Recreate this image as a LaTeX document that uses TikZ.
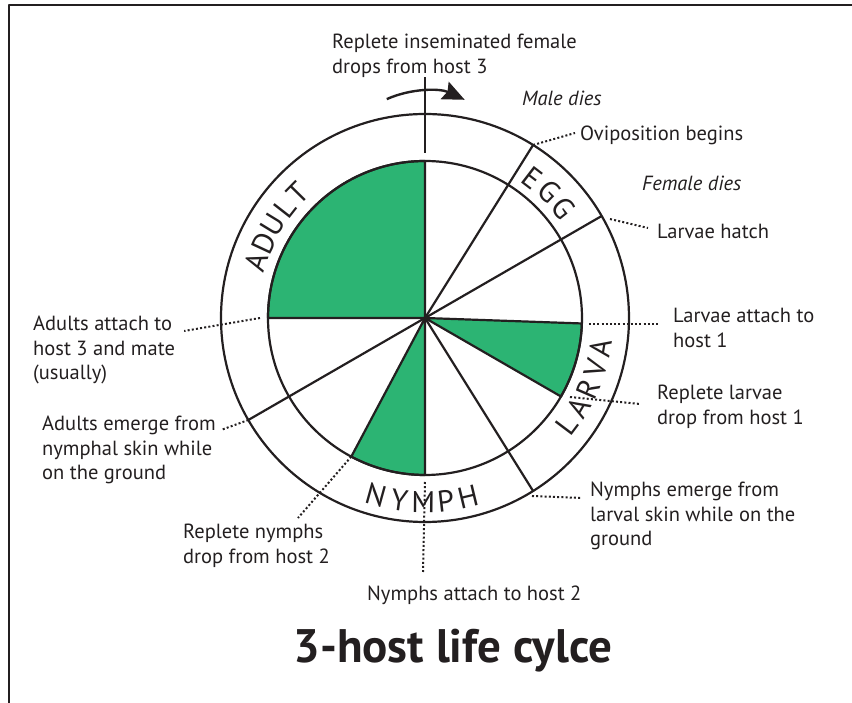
\documentclass[tikz,border=0pt]{standalone}
\usepackage{fontspec}
\setmainfont{PT Sans}
\usetikzlibrary{arrows.meta}
\definecolor{ink}{RGB}{35,31,32}
\definecolor{tickgreen}{RGB}{44,180,115}
\newcommand{\lblfont}{\fontsize{20.5}{24.5}\selectfont}
\newcommand{\ringfont}{\fontsize{30}{30}\selectfont}

\begin{document}
\begin{tikzpicture}[x=1pt,y=1pt,line join=round,
    ring/.style={draw=ink,line width=2.2pt},
    sector/.style={draw=ink,fill=tickgreen,line width=2.2pt},
    leader/.style={draw=ink,line width=2pt,dash pattern=on 2pt off 2.2pt},
    lbl/.style={anchor=north west,align=left,inner sep=0pt,text=ink,font=\lblfont},
    stage/.style={inner sep=0pt,text=ink,font=\ringfont}]
  \useasboundingbox (-425,-385) rectangle (427,318);
  % Frame
  \draw[ink,line width=2.6pt] (-416,-385) -- (-416,313) -- (427,313);
  % Feeding periods
  \filldraw[sector] (0,0) -- (90:157) arc (90:180:157) -- cycle;
  \filldraw[sector] (0,0) -- (-2:157) arc (-2:-30:157) -- cycle;
  \filldraw[sector] (0,0) -- (-90:157) arc (-90:-118:157) -- cycle;
  % Rings
  \draw[ring] (0,0) circle (157);
  \draw[ring] (0,0) circle (204);
  % Stage boundaries
  \foreach \a in {58,30,-58,-150}
    \draw[ring] (0,0) -- (\a:204);
  % Start mark and direction
  \draw[ring] (90:165) -- (90:241);
  \draw[ink,line width=2.4pt,-{Stealth[length=22pt,width=19pt,inset=3pt]}]
    ([shift={(0,133)}]114:94) arc (114:65:94);
  %
  % Stage names
  \foreach \ch/\a [count=\i] in {A/161.5,D/155,U/148.5,L/142,T/135.5}
    \node[stage,rotate=\a-90] (adult\i) at (\a:178) {\ch};
  \foreach \ch/\a [count=\i] in {E/52.5,G/45.5,G/38.5}
    \node[stage,rotate=\a-90] (egg\i) at (\a:177) {\ch};
  \foreach \ch/\a [count=\i] in {L/-37,A/-30.2,R/-23.4,V/-16.5,A/-9.7}
    \node[stage,rotate=\a+90] (larva\i) at (\a:178) {\ch};
  \foreach \ch/\a [count=\i] in {N/-105.5,Y/-98,M/-90.5,P/-83.5,H/-76.5}
    \node[stage,rotate=\a+90] (nymph\i) at (\a:184) {\ch};
  %
  % Events
  \node[lbl] (rep3) at (-93,284) {Replete inseminated female\\drops from host 3};
  \node[lbl,font=\lblfont\itshape] (male) at (97,227) {Male dies};
  \node[lbl] (ovip) at (155,192) {Oviposition begins};
  \node[lbl,font=\lblfont\itshape] (female) at (217,142) {Female dies};
  \node[lbl] (hatch) at (232,94) {Larvae hatch};
  \node[lbl] (latt) at (248,10) {Larvae attach to\\host 1};
  \node[lbl] (rlar) at (232,-67) {Replete larvae\\drop from host 1};
  \node[lbl] (nem) at (165,-164) {Nymphs emerge from\\larval skin while on the\\ground};
  \node[lbl] (natt) at (-58,-268) {Nymphs attach to host 2};
  \node[lbl] (rnym) at (-242,-206) {Replete nymphs\\drop from host 2};
  \node[lbl] (aem) at (-383,-98) {Adults emerge from\\nymphal skin while\\on the ground};
  \node[lbl] (aatt) at (-392,2) {Adults attach to\\host 3 and mate\\(usually)};
  \node[text=ink,font=\fontsize{47}{52}\selectfont\bfseries,anchor=base,inner sep=0pt]
    (title) at (28,-345) {3-host life cylce};
  %
  % Leaders
  \coordinate (c-ovip) at (58:204);
  \coordinate (c-hatch) at (185,99);
  \coordinate (c-latt) at (164,-6);
  \coordinate (c-rlar) at (145,-79);
  \coordinate (c-nem) at (107,-178);
  \coordinate (c-natt) at (0,-164);
  \coordinate (c-rnym) at (-118:157);
  \coordinate (c-aem) at (-150:204);
  \coordinate (c-aatt) at (-165,0);
  \draw[leader] (c-ovip) -- ([shift={(-5,-7)}]ovip.north west);
  \draw[leader] (c-hatch) -- ([shift={(-9,-4)}]hatch.north west);
  \draw[leader] (c-latt) -- ([shift={(-15,-16)}]latt.north west);
  \draw[leader] (c-rlar) -- ([shift={(-17,-19)}]rlar.north west);
  \draw[leader] (c-nem) -- ([shift={(-8,-16)}]nem.north west);
  \draw[leader] (c-natt) -- ([shift={(56,14)}]natt.north west);
  \draw[leader] (c-rnym) -- ([shift={(-32,6)}]rnym.north east);
  \draw[leader] (c-aem) -- ([shift={(5,-14)}]aem.north east);
  \draw[leader] (c-aatt) -- ([shift={(9,-15)}]aatt.north east);
\end{tikzpicture}
\end{document}
